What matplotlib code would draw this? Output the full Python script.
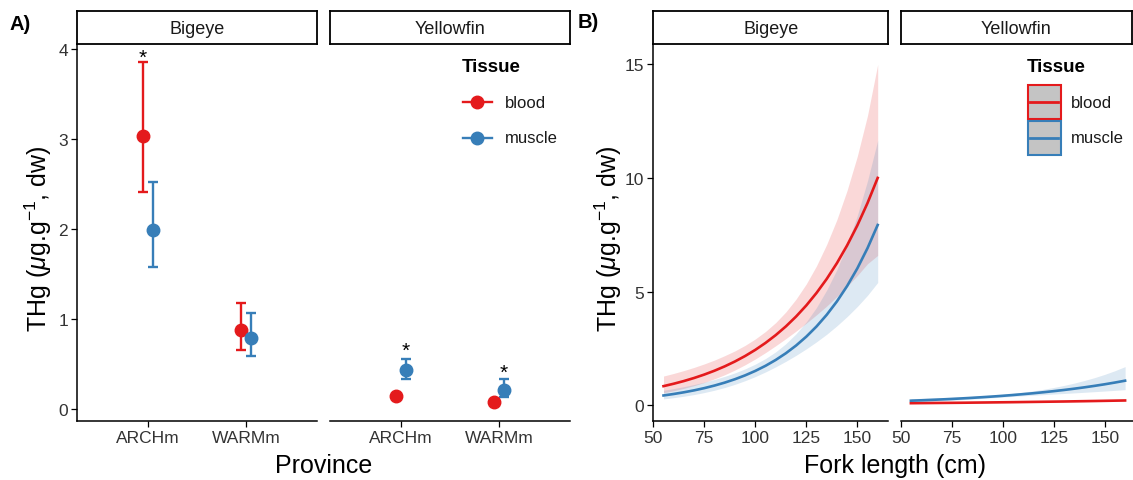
import matplotlib
matplotlib.use("Agg")
import matplotlib.pyplot as plt
from matplotlib.lines import Line2D
from matplotlib.patches import Rectangle

plt.rcParams['font.family'] = ['Liberation Sans', 'DejaVu Sans']
plt.rcParams['mathtext.fontset'] = 'custom'
plt.rcParams['mathtext.rm'] = 'Liberation Sans'
plt.rcParams['mathtext.it'] = 'Liberation Sans:italic'

# ---- data: panel A (mean and CI per province) ----
species = ['Bigeye', 'Yellowfin']
provinces = ['ARCHm', 'WARMm']
tissues = ['blood', 'muscle']

bigeye_blood = [3.04, 0.88]
bigeye_blood_lo = [2.41, 0.66]
bigeye_blood_hi = [3.86, 1.18]
bigeye_muscle = [1.99, 0.79]
bigeye_muscle_lo = [1.58, 0.59]
bigeye_muscle_hi = [2.52, 1.07]
yellowfin_blood = [0.14, 0.08]
yellowfin_blood_lo = [0.12, 0.07]
yellowfin_blood_hi = [0.16, 0.09]
yellowfin_muscle = [0.43, 0.21]
yellowfin_muscle_lo = [0.33, 0.13]
yellowfin_muscle_hi = [0.56, 0.33]

# significance stars: (species, province index, tissue, y)
stars = [('Bigeye', 0, 'blood', 3.91),
         ('Yellowfin', 0, 'muscle', 0.65),
         ('Yellowfin', 1, 'muscle', 0.41)]

# ---- data: panel B (fitted curves with CI) ----
fork_length = [55, 60, 65, 70, 75, 80, 85, 90, 95, 100, 105,
               110, 115, 120, 125, 130, 135, 140, 145, 150, 155, 160]

be_blood_fit = [0.85, 0.956, 1.075, 1.209, 1.360, 1.529, 1.720, 1.934, 2.175, 2.446, 2.751,
                3.094, 3.479, 3.913, 4.400, 4.949, 5.565, 6.259, 7.039, 7.916, 8.902, 10.01]
be_blood_up = [1.294, 1.409, 1.535, 1.674, 1.828, 1.997, 2.190, 2.400, 2.643, 2.925, 3.254,
               3.645, 4.116, 4.680, 5.346, 6.142, 7.084, 8.174, 9.460, 10.96, 12.75, 15.00]
be_blood_lw = [0.558, 0.649, 0.753, 0.873, 1.012, 1.171, 1.351, 1.558, 1.790, 2.045, 2.325,
               2.626, 2.941, 3.272, 3.621, 3.988, 4.372, 4.792, 5.237, 5.715, 6.234, 6.60]
be_muscle_fit = [0.44, 0.505, 0.580, 0.665, 0.763, 0.876, 1.005, 1.154, 1.324, 1.520, 1.744,
                 2.002, 2.298, 2.637, 3.027, 3.474, 3.987, 4.576, 5.252, 6.027, 6.918, 7.94]
be_muscle_up = [0.670, 0.744, 0.828, 0.921, 1.025, 1.144, 1.279, 1.432, 1.609, 1.818, 2.063,
                2.358, 2.719, 3.154, 3.678, 4.311, 5.075, 5.976, 7.059, 8.347, 9.879, 11.66]
be_muscle_lw = [0.289, 0.343, 0.406, 0.480, 0.568, 0.671, 0.789, 0.930, 1.090, 1.271, 1.474,
                1.699, 1.943, 2.205, 2.491, 2.799, 3.132, 3.504, 3.908, 4.352, 4.845, 5.41]

yf_blood_fit = [0.100, 0.104, 0.108, 0.112, 0.116, 0.120, 0.125, 0.130, 0.135, 0.140, 0.145,
                0.151, 0.157, 0.163, 0.169, 0.175, 0.182, 0.189, 0.196, 0.204, 0.212, 0.220]
yf_blood_up = [0.112, 0.115, 0.118, 0.121, 0.125, 0.129, 0.133, 0.138, 0.143, 0.148, 0.154,
               0.160, 0.167, 0.175, 0.183, 0.191, 0.200, 0.210, 0.220, 0.231, 0.242, 0.254]
yf_blood_lw = [0.089, 0.094, 0.099, 0.104, 0.108, 0.112, 0.117, 0.122, 0.127, 0.132, 0.136,
               0.142, 0.147, 0.152, 0.156, 0.160, 0.165, 0.170, 0.175, 0.180, 0.186, 0.191]
yf_muscle_fit = [0.21, 0.227, 0.246, 0.266, 0.287, 0.311, 0.336, 0.364, 0.393, 0.425, 0.460,
                 0.498, 0.538, 0.582, 0.630, 0.681, 0.737, 0.797, 0.862, 0.932, 1.008, 1.09]
yf_muscle_up = [0.298, 0.312, 0.328, 0.344, 0.360, 0.380, 0.401, 0.427, 0.455, 0.490, 0.532,
                0.584, 0.642, 0.711, 0.791, 0.880, 0.982, 1.097, 1.223, 1.367, 1.528, 1.709]
yf_muscle_lw = [0.148, 0.165, 0.185, 0.206, 0.229, 0.254, 0.281, 0.311, 0.340, 0.369, 0.398,
                0.425, 0.451, 0.476, 0.502, 0.527, 0.553, 0.580, 0.607, 0.635, 0.665, 0.695]

RED = '#E41A1C'
BLUE = '#377EB8'
colors = {'blood': RED, 'muscle': BLUE}
dodge = {'blood': -0.05, 'muscle': 0.05}

W, H = 1133, 481
fig = plt.figure(figsize=(W / 100, H / 100), dpi=100)


def rect(l, t, r, b):
    return [l / W, 1 - b / H, (r - l) / W, (b - t) / H]


TOP, BOT = 45, 421.7
TXT = '#333333'


def style(ax, first):
    for s in ['top', 'right']:
        ax.spines[s].set_visible(False)
    ax.spines['bottom'].set_linewidth(1.1)
    ax.spines['left'].set_linewidth(1.1)
    ax.tick_params(length=4, width=0.9, pad=2.5, labelsize=12.5, labelcolor=TXT)
    if not first:
        ax.spines['left'].set_visible(False)
        ax.tick_params(axis='y', left=False, labelleft=False)


def strip(l, r, label):
    sa = fig.add_axes(rect(l, 12, r, TOP))
    sa.set_xticks([])
    sa.set_yticks([])
    for s in sa.spines.values():
        s.set_linewidth(1.3)
    sa.text(0.5, 0.48, label, ha='center', va='center', fontsize=13,
            color='#1a1a1a', transform=sa.transAxes)


# ---------------- panel A ----------------
pointdata = {
    ('Bigeye', 'blood'): (bigeye_blood, bigeye_blood_lo, bigeye_blood_hi),
    ('Bigeye', 'muscle'): (bigeye_muscle, bigeye_muscle_lo, bigeye_muscle_hi),
    ('Yellowfin', 'blood'): (yellowfin_blood, yellowfin_blood_lo, yellowfin_blood_hi),
    ('Yellowfin', 'muscle'): (yellowfin_muscle, yellowfin_muscle_lo, yellowfin_muscle_hi),
}
a_edges = [(77, 317), (330, 570)]
for i, sp in enumerate(species):
    l, r = a_edges[i]
    ax = fig.add_axes(rect(l, TOP, r, BOT))
    style(ax, i == 0)
    for t in tissues:
        m, lo, hi = pointdata[(sp, t)]
        xs = [k + 1 + dodge[t] for k in range(len(provinces))]
        err = [[m[k] - lo[k] for k in range(len(m))], [hi[k] - m[k] for k in range(len(m))]]
        ax.errorbar(xs, m, yerr=err, fmt='none', ecolor=colors[t], elinewidth=1.7,
                    capsize=3.4, capthick=1.7, zorder=2)
        ax.plot(xs, m, 'o', color=colors[t], ms=9, zorder=3)
    for s_sp, k, t, y in stars:
        if s_sp == sp:
            ax.text(k + 1 + dodge[t], y, '*', ha='center', va='center', fontsize=15, color='black')
    ax.set_xlim(0.28, 2.72)
    ax.set_ylim(-0.13, 4.06)
    ax.set_xticks([1, 2])
    ax.set_xticklabels(provinces)
    ax.set_yticks([0, 1, 2, 3, 4])
    strip(l, r, sp)

# ---------------- panel B ----------------
curvedata = {
    'Bigeye': {'blood': (be_blood_fit, be_blood_lw, be_blood_up),
               'muscle': (be_muscle_fit, be_muscle_lw, be_muscle_up)},
    'Yellowfin': {'blood': (yf_blood_fit, yf_blood_lw, yf_blood_up),
                  'muscle': (yf_muscle_fit, yf_muscle_lw, yf_muscle_up)},
}
b_edges = [(653.3, 888.3), (900.7, 1135.7)]
for i, sp in enumerate(species):
    l, r = b_edges[i]
    ax = fig.add_axes(rect(l, TOP, r, BOT))
    style(ax, i == 0)
    for t in tissues:
        fit, lw_, up = curvedata[sp][t]
        ax.fill_between(fork_length, lw_, up, color=colors[t], alpha=0.17, lw=0)
    for t in tissues:
        fit, lw_, up = curvedata[sp][t]
        ax.plot(fork_length, fit, color=colors[t], lw=1.9)
    ax.set_xlim(50, 165.2)
    ax.set_ylim(-0.67, 15.9)
    ax.set_xticks([50, 75, 100, 125, 150])
    ax.set_yticks([0, 5, 10, 15])
    strip(l, min(r, 1132), sp)

# ---------------- overlay in pixel coords: legends and labels ----------------
ov = fig.add_axes([0, 0, 1, 1], zorder=10)
ov.set_xlim(0, W)
ov.set_ylim(H, 0)
ov.axis('off')

key_y = [103, 139]

# legend A (point + errorbar keys)
ov.text(462, 67, 'Tissue', ha='left', va='center', fontsize=13.5, weight='bold')
for t, y in zip(tissues, key_y):
    ov.add_line(Line2D([463, 492], [y, y], color=colors[t], lw=1.7))
    ov.plot([477], [y], 'o', color=colors[t], ms=9)
    ov.text(505, y, t, ha='left', va='center', fontsize=12, color='#1a1a1a')

# legend B (ribbon + line keys)
ov.text(1027, 67, 'Tissue', ha='left', va='center', fontsize=13.5, weight='bold')
for t, y in zip(tissues, key_y):
    ov.add_patch(Rectangle((1027.5, y - 17), 33, 34, facecolor='#c4c4c4',
                           edgecolor=colors[t], lw=1.5))
    ov.add_line(Line2D([1030, 1058], [y, y], color=colors[t], lw=2))
    ov.text(1071, y, t, ha='left', va='center', fontsize=12, color='#1a1a1a')

ylab = r'THg ($\mu$g.g$^{-1}$, dw)'
ov.text(38, (TOP + BOT) / 2 + 5, ylab, rotation=90, ha='center', va='center', fontsize=18)
ov.text(608, (TOP + BOT) / 2 + 5, ylab, rotation=90, ha='center', va='center', fontsize=18)
ov.text((77 + 570) / 2, 466, 'Province', ha='center', va='center', fontsize=18)
ov.text((653.3 + 1135.7) / 2, 466, 'Fork length (cm)', ha='center', va='center', fontsize=18)
ov.text(10, 24, 'A)', ha='left', va='center', fontsize=14.5, weight='bold')
ov.text(578, 23, 'B)', ha='left', va='center', fontsize=14.5, weight='bold')

fig.savefig('out.png', dpi=100)
